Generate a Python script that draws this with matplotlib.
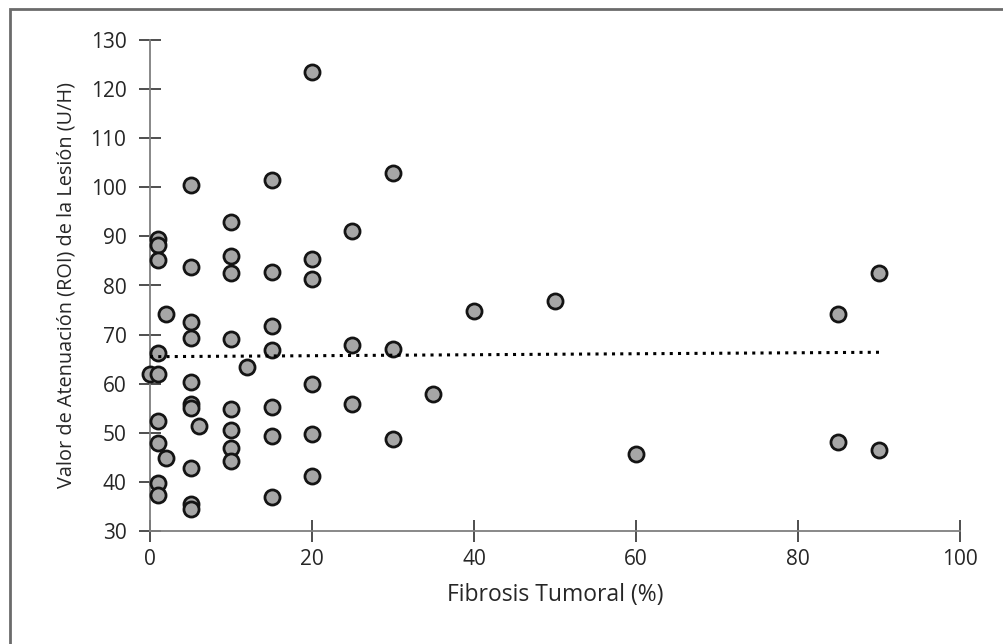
import numpy as np
import matplotlib
matplotlib.use("Agg")
import matplotlib.pyplot as plt
from matplotlib.patches import Rectangle

# Fibrosis tumoral (%) vs valor de atenuacion (U/H)
fibrosis = [0,
            1, 1, 1, 1, 1, 1, 1, 1, 1,
            2, 2,
            5, 5, 5, 5, 5, 5, 5, 5, 5, 5,
            6,
            10, 10, 10, 10, 10, 10, 10, 10,
            12,
            15, 15, 15, 15, 15, 15, 15,
            20, 20, 20, 20, 20, 20,
            25, 25, 25,
            30, 30, 30,
            35, 40, 50, 60,
            85, 85, 90, 90]
atenuacion = [61.9,
              89.4, 88.2, 85.2, 66.3, 61.9, 52.4, 48.0, 39.8, 37.3,
              74.2, 44.8,
              100.5, 83.7, 72.6, 69.4, 60.3, 55.9, 55.0, 42.8, 35.6, 34.4,
              51.4,
              92.9, 86.0, 82.5, 69.1, 54.8, 50.6, 47.0, 44.3,
              63.5,
              101.5, 82.7, 71.8, 66.9, 55.3, 49.4, 36.9,
              123.5, 85.3, 81.4, 60.0, 49.7, 41.2,
              91.1, 67.9, 55.9,
              102.9, 67.1, 48.8,
              57.9, 74.9, 76.9, 45.7,
              74.1, 48.1, 82.5, 46.5]

# linear trend line (Excel style), end values
trend_x = [0, 90]
trend_y = [65.5, 66.4]

plt.rcParams["font.family"] = ["Open Sans", "DejaVu Sans"]

fig = plt.figure(figsize=(10.04, 6.44), dpi=100)
ax = fig.add_axes([150 / 1004, 1 - 531 / 644, 810 / 1004, 491 / 644])

ax.scatter(fibrosis, atenuacion, s=118, facecolor="#a6a6a6",
           edgecolor="#141414", linewidths=2.0, zorder=3, clip_on=False)

ax.plot(trend_x, trend_y, color="black", linestyle=(0, (1, 1.7)),
        linewidth=2.2, zorder=4)

ax.set_xlim(0, 100)
ax.set_ylim(30, 130)
ax.set_xticks(range(0, 101, 20))
ax.set_yticks(range(30, 131, 10))

for s in ["top", "right"]:
    ax.spines[s].set_visible(False)
for s in ["left", "bottom"]:
    ax.spines[s].set_color("#7f7f7f")
    ax.spines[s].set_linewidth(1.3)

ax.tick_params(direction="inout", length=16, width=1.3, color="#404040",
               labelsize=15, labelcolor="#262626")
ax.tick_params(axis="x", pad=5)
ax.tick_params(axis="y", pad=9)

ax.set_xlabel("Fibrosis Tumoral (%)", fontsize=16.5, color="#262626",
              labelpad=9)
ax.set_ylabel("Valor de Atenuación (ROI) de la Lesión (U/H)", fontsize=14.3,
              color="#262626", labelpad=10)

# outer frame (only top and left edges are inside the image)
fig.patches.append(Rectangle((9.5 / 1004, -0.2), 1.5, 1.2 - 8.5 / 644,
                             transform=fig.transFigure, fill=False,
                             edgecolor="#6b6b6b", linewidth=2.0))

fig.savefig("out.png", dpi=100, facecolor="white")
